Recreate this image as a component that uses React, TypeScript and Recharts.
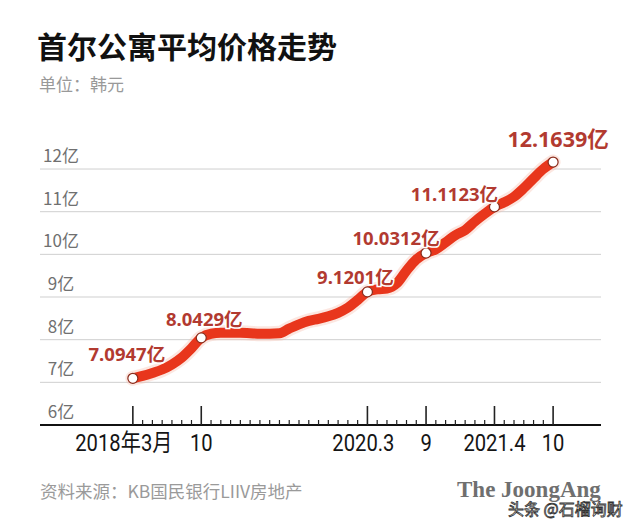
import React from "react";
import { LineChart, Line, XAxis, YAxis, CartesianGrid, LabelList } from "recharts";

// monthly average price, 2018.3 .. 2021.10 (亿韩元)
const prices = [
  7.0947, 7.15, 7.22, 7.3, 7.42, 7.58, 7.8, 8.0429, 8.14, 8.16, 8.16, 8.16,
  8.15, 8.14, 8.14, 8.15, 8.26, 8.36, 8.44, 8.49, 8.55, 8.63, 8.75, 8.93,
  9.1201, 9.18, 9.2, 9.32, 9.62, 9.88, 10.0312, 10.12, 10.28, 10.45, 10.57,
  10.77, 10.95, 11.1123, 11.22, 11.35, 11.55, 11.78, 12.0, 12.1639,
];

// months (index from 2018.3) that carry a marker and a value label
const markedMonths = [0, 7, 24, 30, 37, 43];
const markedLabels = ["7.0947亿", "8.0429亿", "9.1201亿", "10.0312亿", "11.1123亿", "12.1639亿"];

const xTickMonths = prices.map((_, i) => i);
const xTickLabels: Record<number, string> = {
  0: "2018年3月",
  7: "10",
  24: "2020.3",
  30: "9",
  37: "2021.4",
  43: "10",
};

const yTicks = [6, 7, 8, 9, 10, 11, 12];
const gridValues = [7, 8, 9, 10, 11, 12];

const data = prices.map((price, m) => {
  const k = markedMonths.indexOf(m);
  return { m, price, label: k >= 0 ? markedLabels[k] : "" };
});

const RED = "#e8361c";
const LABEL_RED = "#b23a30";

// label placement relative to its point: [dx, dy, fontSize]
const labelNudge: Record<number, [number, number, number]> = {
  0: [-6, -24, 18.5],
  7: [3, -19, 18.5],
  24: [-12, -15, 18.5],
  30: [-30, -14.5, 18.5],
  37: [-40, -13, 18.5],
  43: [5, -22.5, 21.5],
};

const XTick = (props: any) => {
  const { x, y, payload } = props;
  const label = xTickLabels[payload.value];
  const major = label !== undefined;
  const dx = payload.value === 0 ? -9 : payload.value === 24 ? -4 : 0;
  return (
    <g>
      <line
        x1={x}
        x2={x}
        y1={y}
        y2={y - (major ? 19 : 5)}
        stroke="#222"
        strokeWidth={major ? 1.6 : 1.2}
      />
      {major && (
        <text
          transform={`translate(${x + dx},${y + 26}) scale(0.86,1)`}
          x={0}
          y={0}
          textAnchor="middle"
          fontSize={23.5}
          fill="#151515"
          fontFamily="Roboto, 'Noto Sans CJK SC', sans-serif"
        >
          {label}
        </text>
      )}
    </g>
  );
};

const YTick = (props: any) => {
  const { y, payload } = props;
  return (
    <text
      x={61}
      y={y - 7}
      textAnchor="middle"
      fontSize={17}
      fill="#707070"
      fontFamily="'Noto Sans CJK SC', 'Noto Sans', sans-serif"
    >
      {payload.value}亿
    </text>
  );
};

const Marker = (props: any) => {
  const { cx, cy, payload } = props;
  if (!payload.label) return <g key={`d${payload.m}`} />;
  return (
    <circle
      key={`d${payload.m}`}
      cx={cx}
      cy={cy}
      r={5}
      fill="#fff"
      stroke="#8a2c1c"
      strokeWidth={1.2}
    />
  );
};

const ValueLabel = (props: any) => {
  const { x, y, value, index } = props;
  if (!value) return null;
  const [dx, dy, fs] = labelNudge[data[index].m];
  return (
    <text
      x={x + dx}
      y={y + dy + fs * 0.36}
      textAnchor="middle"
      fontSize={fs}
      fontWeight={700}
      fill={LABEL_RED}
      stroke="#fff"
      strokeWidth={3}
      paintOrder="stroke"
      fontFamily="'Noto Sans', 'Noto Sans CJK SC', sans-serif"
    >
      {value}
    </text>
  );
};

const cjk = "'Noto Sans CJK SC', 'Noto Sans', sans-serif";

export default function App() {
  return (
    <div
      style={{
        position: "absolute",
        left: 0,
        top: 0,
        width: 640,
        height: 529,
        background: "#fff",
        overflow: "hidden",
      }}
    >
      <div
        style={{
          position: "absolute",
          left: 37,
          top: 30,
          fontSize: 30,
          lineHeight: 1,
          fontWeight: 700,
          color: "#111",
          fontFamily: cjk,
          whiteSpace: "nowrap",
        }}
      >
        首尔公寓平均价格走势
      </div>
      <div
        style={{
          position: "absolute",
          left: 39,
          top: 74.5,
          fontSize: 17,
          lineHeight: 1,
          color: "#999",
          fontFamily: cjk,
          whiteSpace: "nowrap",
        }}
      >
        单位：韩元
      </div>

      <div style={{ position: "absolute", left: 0, top: 0 }}>
        <LineChart
          width={640}
          height={529}
          data={data}
          margin={{ top: 147.7, right: 39, bottom: 74, left: 39 }}
        >
          <CartesianGrid
            horizontal
            vertical={false}
            horizontalValues={gridValues}
            stroke="#cfcfcf"
            strokeWidth={1}
          />
          <XAxis
            dataKey="m"
            type="number"
            domain={[-9.5, 47.9]}
            ticks={xTickMonths}
            interval={0}
            height={30}
            tickSize={0}
            tickMargin={0}
            tickLine={false}
            axisLine={{ stroke: "#111", strokeWidth: 2 }}
            tick={<XTick />}
          />
          <YAxis
            type="number"
            domain={[6, 12.5]}
            ticks={yTicks}
            interval={0}
            width={1}
            axisLine={false}
            tickLine={false}
            tick={<YTick />}
          />
          <Line
            dataKey="price"
            type="monotone"
            stroke="#f7b9aa"
            strokeOpacity={0.35}
            strokeWidth={15}
            strokeLinecap="round"
            dot={false}
            activeDot={false}
            isAnimationActive={false}
          />
          <Line
            dataKey="price"
            type="monotone"
            stroke={RED}
            strokeWidth={10}
            strokeLinecap="round"
            strokeLinejoin="round"
            dot={<Marker />}
            activeDot={false}
            isAnimationActive={false}
          >
            <LabelList dataKey="label" content={<ValueLabel />} />
          </Line>
        </LineChart>
      </div>

      <div
        style={{
          position: "absolute",
          left: 40,
          top: 482,
          fontSize: 17.5,
          lineHeight: 1,
          color: "#9a9a9a",
          fontFamily: cjk,
          whiteSpace: "nowrap",
        }}
      >
        资料来源：KB国民银行LIIV房地产
      </div>
      <div
        style={{
          position: "absolute",
          left: 457,
          top: 478,
          fontSize: 23,
          lineHeight: 1,
          fontWeight: 700,
          color: "#6f6f6f",
          fontFamily: "'Liberation Serif', 'DejaVu Serif', serif",
          whiteSpace: "nowrap",
        }}
      >
        The JoongAng
      </div>
      <div
        style={{
          position: "absolute",
          left: 508,
          top: 500,
          fontSize: 16,
          lineHeight: 1,
          color: "#fff",
          WebkitTextStroke: "0.8px #333",
          fontFamily: cjk,
          whiteSpace: "nowrap",
        }}
      >
        头条 @石榴询财
      </div>
    </div>
  );
}
